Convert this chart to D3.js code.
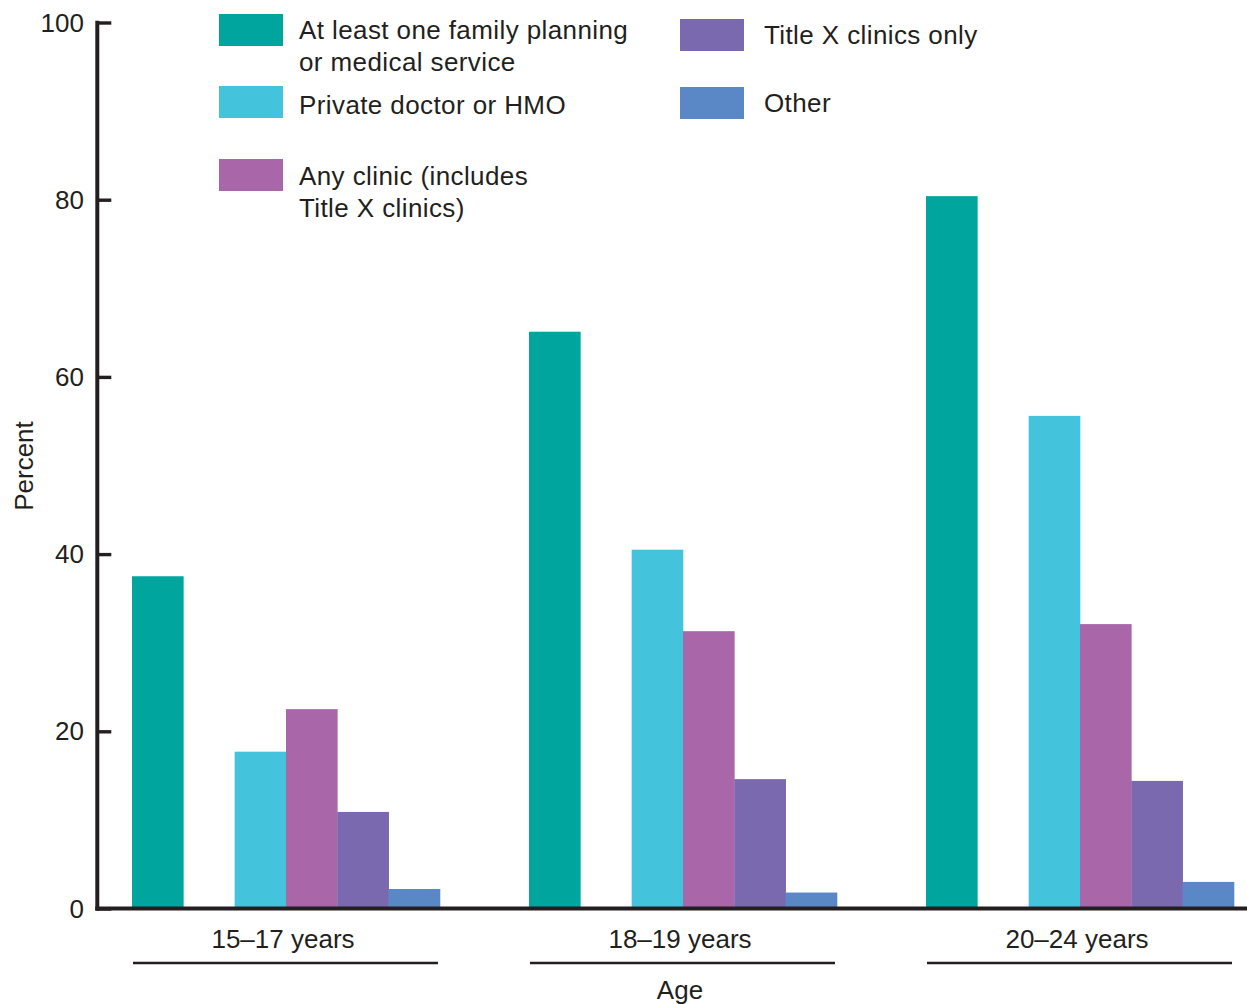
<!DOCTYPE html>
<html>
<head>
<meta charset="utf-8">
<script src="https://cdn.jsdelivr.net/npm/d3@7"></script>
<style>
  html, body { margin: 0; padding: 0; background: #fff; }
  svg { display: block; font-family: "Liberation Sans", Arial, Helvetica, sans-serif; }
</style>
</head>
<body>
<svg id="chart" width="1247" height="1004"></svg>
<script>
// ---- data ----
const ageGroups = ["15\u201317 years", "18\u201319 years", "20\u201324 years"];
const seriesNames = [
  "At least one family planning or medical service",
  "Private doctor or HMO",
  "Any clinic (includes Title X clinics)",
  "Title X clinics only",
  "Other"
];
const atLeastOne   = [37.5, 65.1, 80.4];
const privateDoc   = [17.7, 40.5, 55.6];
const anyClinic    = [22.5, 31.3, 32.1];
const titleXOnly   = [10.9, 14.6, 14.4];
const otherSource  = [2.2, 1.8, 3.0];
const seriesValues = [atLeastOne, privateDoc, anyClinic, titleXOnly, otherSource];
const yTicks = [0, 20, 40, 60, 80, 100];
const legendLines = [
  ["At least one family planning", "or medical service"],
  ["Private doctor or HMO"],
  ["Any clinic (includes", "Title X clinics)"],
  ["Title X clinics only"],
  ["Other"]
];
const colors = ["#00A69D", "#43C4DC", "#A967AA", "#7A69AF", "#5A88C6"];
// slot order inside a group (slot "gap" left empty after the first series)
const slots = ["s0", "gap", "s1", "s2", "s3", "s4"];

// ---- layout ----
const svg = d3.select("#chart");
const ink = "#231F20";
const y = d3.scaleLinear().domain([0, 100]).range([908.5, 22.5]);
const x0 = d3.scaleBand().domain(ageGroups).range([132, 1234]).paddingInner(0.2242).paddingOuter(0);
const x1 = d3.scaleBand().domain(slots).range([0, x0.bandwidth()]).padding(0);

// bars
const data = [];
ageGroups.forEach((g, gi) => {
  seriesValues.forEach((vals, si) => {
    data.push({ group: g, slot: "s" + si, value: vals[gi], color: colors[si] });
  });
});
svg.append("g").selectAll("rect").data(data).join("rect")
  .attr("x", d => x0(d.group) + x1(d.slot))
  .attr("width", x1.bandwidth() + 0.3)
  .attr("y", d => y(d.value))
  .attr("height", d => y(0) - y(d.value))
  .attr("fill", d => d.color);

// y axis
const yAxis = d3.axisRight(y).tickValues(yTicks).tickSize(14).tickFormat("");
const yg = svg.append("g").attr("transform", "translate(97.3,0)").call(yAxis);
yg.select(".domain").remove();
yg.selectAll(".tick line").attr("stroke", ink).attr("stroke-width", 3.4);
svg.append("line").attr("x1", 97.3).attr("x2", 97.3).attr("y1", y(100) - 1.7).attr("y2", y(0) + 2.2)
  .attr("stroke", ink).attr("stroke-width", 4);
svg.append("g").selectAll("text").data(yTicks).join("text")
  .attr("x", 84).attr("y", d => y(d)).attr("dy", "0.35em")
  .attr("text-anchor", "end").attr("font-size", 26).attr("fill", ink)
  .text(d => d);

// x axis line
svg.append("line").attr("x1", 95.3).attr("x2", 1247).attr("y1", y(0)).attr("y2", y(0))
  .attr("stroke", ink).attr("stroke-width", 4);

// group labels and underlines
const gl = svg.append("g").selectAll("g").data(ageGroups).join("g");
gl.append("text")
  .attr("x", d => x0(d) + x0.bandwidth() / 2 - 3)
  .attr("y", 948).attr("text-anchor", "middle").attr("font-size", 26).attr("fill", ink)
  .text(d => d);
gl.append("line")
  .attr("x1", d => x0(d) + 1).attr("x2", d => x0(d) + x0.bandwidth() - 2)
  .attr("y1", 963).attr("y2", 963).attr("stroke", ink).attr("stroke-width", 2.5);

// axis titles
svg.append("text").attr("x", 680).attr("y", 999).attr("text-anchor", "middle")
  .attr("font-size", 26).attr("fill", ink).text("Age");
svg.append("text").attr("transform", "translate(33,466) rotate(-90)")
  .attr("text-anchor", "middle").attr("font-size", 26).attr("fill", ink).text("Percent");

// legend
const legendPos = [
  { sx: 219, sy: 14, tx: 299, ty: 39 },
  { sx: 219, sy: 86, tx: 299, ty: 114 },
  { sx: 219, sy: 159, tx: 299, ty: 185 },
  { sx: 680, sy: 19, tx: 764, ty: 44 },
  { sx: 680, sy: 87, tx: 764, ty: 112 }
];
const lg = svg.append("g").selectAll("g").data(seriesNames).join("g");
lg.append("rect")
  .attr("x", (d, i) => legendPos[i].sx).attr("y", (d, i) => legendPos[i].sy)
  .attr("width", 64).attr("height", 32).attr("fill", (d, i) => colors[i]);
lg.append("text")
  .attr("x", (d, i) => legendPos[i].tx).attr("y", (d, i) => legendPos[i].ty)
  .attr("font-size", 26).attr("letter-spacing", 0.4).attr("fill", ink)
  .selectAll("tspan").data((d, i) => legendLines[i]).join("tspan")
  .attr("x", function() { return d3.select(this.parentNode).attr("x"); })
  .attr("dy", (d, j) => j === 0 ? 0 : 32)
  .text(d => d);
</script>
</body>
</html>
